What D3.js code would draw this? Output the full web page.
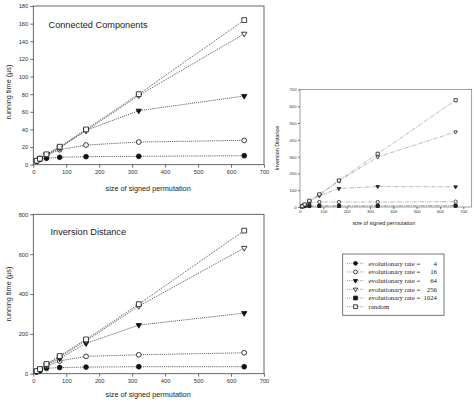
<!DOCTYPE html>
<html><head><meta charset="utf-8">
<script src="https://cdn.jsdelivr.net/npm/d3@7"></script>
<style>
html,body{margin:0;padding:0;background:#fff;}
svg{display:block;}
</style></head>
<body>
<svg id="c" width="474" height="402" font-family="'Liberation Sans',Arial,sans-serif"></svg>
<script>
// ---- data ----
const sizes = [10, 20, 40, 80, 160, 320, 640];
const sizesSmall = [10, 20, 40, 83, 167, 333, 667];
const xTicks = [0, 100, 200, 300, 400, 500, 600, 700];
const ccTicks = [0, 20, 40, 60, 80, 100, 120, 140, 160, 180];
const idTicks = [0, 200, 400, 600, 800];
const smallYTicks = [0, 100, 200, 300, 400, 500, 600, 700];

// Connected Components (running time, µs)
const cc_rate4   = [4, 6, 7.3, 8.4, 9.1, 9.5, 10.2];
const cc_rate16  = [4.5, 7, 10.5, 17, 22.3, 25.7, 27.6];
const cc_rate64  = [4.5, 7, 11, 19, 39, 61.2, 77.9];
const cc_rate256 = [4.5, 7, 11.5, 19.5, 38.5, 78.5, 148.5];
const cc_random  = [4.5, 6.8, 11.8, 20.4, 40, 80, 164];

// Inversion Distance (running time, µs)
const id_rate4   = [8, 14, 27, 31, 33, 35, 35];
const id_rate16  = [10, 19, 38, 64, 87, 95, 105];
const id_rate64  = [11, 21, 42, 76, 152, 244, 304];
const id_rate256 = [12, 22, 46, 84, 165, 339, 631];
const id_random  = [13.5, 23.5, 48.6, 88.7, 172, 349, 718];

// Small chart: Inversion Distance
const sm_rate4    = [3, 5, 6, 6, 6, 6, 7];
const sm_rate16   = [5, 12, 25, 30, 30, 30, 32];
const sm_rate64   = [5, 13, 30, 68, 110, 122, 120];
const sm_rate256  = [5, 14, 35, 72, 155, 298, 447];
const sm_rate1024 = [4, 6, 7, 7, 7, 7, 8];
const sm_random   = [5, 15, 37, 75, 158, 317, 636];

const legendLabels = ["4", "16", "64", "256", "1024"];
const legendRandom = "random";

// ---- drawing ----
const svg = d3.select("#c");

function marker(g, type, x, y, r, color) {
  const sym = {
    fcircle: [d3.symbolCircle, true],
    ocircle: [d3.symbolCircle, false],
    ftri: [d3.symbolTriangle, true],
    otri: [d3.symbolTriangle, false],
    fsquare: [d3.symbolSquare, true],
    osquare: [d3.symbolSquare, false]
  }[type];
  const area = (type.indexOf("circle") >= 0) ? Math.PI * r * r : (type.indexOf("tri") >= 0 ? r * r * 2.2 : (2 * r) * (2 * r));
  const rot = type.indexOf("tri") >= 0 ? " rotate(180)" : "";
  g.append("path")
    .attr("d", d3.symbol().type(sym[0]).size(area)())
    .attr("transform", `translate(${x},${y})${rot}`)
    .attr("fill", sym[1] ? color : "#fff")
    .attr("stroke", color)
    .attr("stroke-width", 0.8);
}

function chart(opt) {
  const g = svg.append("g");
  const x = d3.scaleLinear().domain(opt.xDomain).range(opt.xRange);
  const y = d3.scaleLinear().domain(opt.yDomain).range(opt.yRange);
  g.append("rect")
    .attr("x", opt.xRange[0]).attr("y", opt.yRange[1])
    .attr("width", opt.xRange[1] - opt.xRange[0])
    .attr("height", opt.yRange[0] - opt.yRange[1])
    .attr("fill", "none").attr("stroke", opt.boxColor).attr("stroke-width", opt.boxWidth);
  const ax = g.append("g").attr("transform", `translate(0,${opt.yRange[0]})`)
    .call(d3.axisBottom(x).tickValues(opt.xTicks).tickSize(opt.tickLen).tickPadding(opt.tickPad));
  const ay = g.append("g").attr("transform", `translate(${opt.xRange[0]},0)`)
    .call(d3.axisLeft(y).tickValues(opt.yTicks).tickSize(opt.tickLen).tickPadding(opt.tickPad));
  [ax, ay].forEach(a => {
    a.attr("font-family", null).attr("font-size", opt.tickFont);
    a.select(".domain").remove();
    a.selectAll("line").attr("stroke", "#333").attr("stroke-width", 0.7);
    a.selectAll("text").attr("fill", "#333");
  });
  opt.series.forEach(s => {
    const pts = opt.xs.map((v, i) => [x(v), y(s.values[i])]);
    g.append("path")
      .attr("d", d3.line()(pts))
      .attr("fill", "none")
      .attr("stroke", opt.lineColor)
      .attr("stroke-width", opt.lineWidth)
      .attr("stroke-dasharray", opt.dash);
  });
  opt.series.forEach(s => {
    opt.xs.forEach((v, i) => marker(g, s.type, x(v), y(s.values[i]), opt.r, opt.markColor));
  });
  g.append("text").attr("x", (opt.xRange[0] + opt.xRange[1]) / 2 + opt.xlabDx).attr("y", opt.xlabY)
    .attr("text-anchor", "middle").attr("font-size", opt.labFont).attr("fill", "#222").text("size of signed permutation");
  g.append("text").attr("transform", `translate(${opt.ylabX},${opt.ylabY}) rotate(-90)`)
    .attr("text-anchor", "middle").attr("font-size", opt.labFont).attr("fill", "#222").text(opt.ylab);
  if (opt.title) {
    g.append("text").attr("x", opt.titleX).attr("y", opt.titleY)
      .attr("font-size", opt.titleFont).attr("fill", "#222").text(opt.title);
  }
}

const leftCommon = {
  xDomain: [0, 700], xRange: [33.3, 264], xTicks: xTicks, xs: sizes,
  tickLen: 3, tickPad: 2, tickFont: 5.8, labFont: 7.3,
  lineColor: "#444", lineWidth: 0.95, dash: "1,1.1", markColor: "#111", r: 2.4,
  boxColor: "#444", boxWidth: 0.8, xlabDx: -0.5, titleFont: 9.2
};

chart(Object.assign({}, leftCommon, {
  yDomain: [0, 180], yRange: [164.7, 6], yTicks: ccTicks,
  xlabY: 190.5, ylabX: 10.5, ylabY: 92, ylab: "running time (µs)",
  title: "Connected Components", titleX: 48.5, titleY: 28,
  series: [
    {type: "fcircle", values: cc_rate4},
    {type: "ocircle", values: cc_rate16},
    {type: "ftri", values: cc_rate64},
    {type: "otri", values: cc_rate256},
    {type: "osquare", values: cc_random}
  ]
}));

chart(Object.assign({}, leftCommon, {
  yDomain: [0, 800], yRange: [373.7, 214.3], yTicks: idTicks,
  xlabY: 397, ylabX: 10.5, ylabY: 294, ylab: "running time (µs)",
  title: "Inversion Distance", titleX: 50.5, titleY: 235,
  series: [
    {type: "fcircle", values: id_rate4},
    {type: "ocircle", values: id_rate16},
    {type: "ftri", values: id_rate64},
    {type: "otri", values: id_rate256},
    {type: "osquare", values: id_random}
  ]
}));

chart({
  xDomain: [0, 736], xRange: [300, 471.7], xTicks: xTicks, xs: sizesSmall,
  yDomain: [0, 700], yRange: [207, 89.5], yTicks: smallYTicks,
  tickLen: 2, tickPad: 1.5, tickFont: 4.2, labFont: 5.4,
  lineColor: "#999", lineWidth: 0.7, dash: "4,1.2,1,1.2", markColor: "#222", r: 1.6,
  boxColor: "#777", boxWidth: 0.7, xlabDx: -2, xlabY: 225,
  ylabX: 279, ylabY: 148, ylab: "Inversion Distance",
  series: [
    {type: "fcircle", values: sm_rate4},
    {type: "ocircle", values: sm_rate16},
    {type: "ftri", values: sm_rate64},
    {type: "otri", values: sm_rate256},
    {type: "fsquare", values: sm_rate1024},
    {type: "osquare", values: sm_random}
  ]
});

// legend
const lg = svg.append("g");
lg.append("rect").attr("x", 342.7).attr("y", 254).attr("width", 101.3).attr("height", 61.3)
  .attr("fill", "#fff").attr("stroke", "#555").attr("stroke-width", 0.8);
const legTypes = ["fcircle", "ocircle", "ftri", "otri", "fsquare", "osquare"];
const rowY = d3.scaleLinear().domain([0, 5]).range([263.3, 306.7]);
const serif = "'Liberation Serif','Times New Roman',serif";
legTypes.forEach((t, i) => {
  const yy = rowY(i);
  lg.append("line").attr("x1", 347).attr("x2", 364).attr("y1", yy).attr("y2", yy)
    .attr("stroke", "#666").attr("stroke-width", 0.7).attr("stroke-dasharray", "1,1.2");
  marker(lg, t, 355.5, yy, 1.9, "#111");
  const label = i < 5 ? "evolutionary rate =" : legendRandom;
  lg.append("text").attr("x", 368.5).attr("y", yy + 2.2)
    .attr("font-family", serif).attr("fill", "#222")
    .attr("font-size", 6.8).text(label);
  if (i < 5) {
    lg.append("text").attr("x", 437).attr("y", yy + 2.2).attr("text-anchor", "end")
      .attr("font-family", serif).attr("fill", "#222")
      .attr("font-size", 6.8).text(legendLabels[i]);
  }
});
</script>
</body></html>
